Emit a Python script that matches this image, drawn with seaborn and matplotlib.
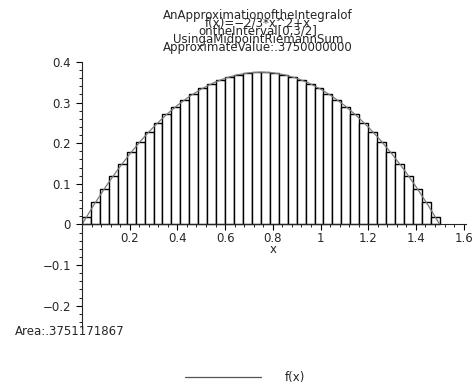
import numpy as np
import matplotlib
matplotlib.use("Agg")
import matplotlib.pyplot as plt
from matplotlib.ticker import MultipleLocator
import seaborn as sns

# Riemann sum setup: interval [0, 3/2], 40 subintervals
a, b, n = 0.0, 1.5, 40

# bar heights f(midpoint), left half (right half is the mirror image)
half_heights = [0.018516, 0.054141, 0.087891, 0.119766, 0.149766,
                0.177891, 0.204141, 0.228516, 0.251016, 0.271641,
                0.290391, 0.307266, 0.322266, 0.335391, 0.346641,
                0.356016, 0.363516, 0.369141, 0.372891, 0.374766]
bar_heights = half_heights + half_heights[::-1]

# the curve f(x) sampled every 0.05
curve_half = [0.0, 0.048333, 0.093333, 0.135, 0.173333, 0.208333, 0.24,
              0.268333, 0.293333, 0.315, 0.333333, 0.348333, 0.36,
              0.368333, 0.373333]
curve_y = curve_half + [0.375] + curve_half[::-1]

title_lines = ["AnApproximationoftheIntegralof",
               "f(x)=\u22122/3*x^2+x",
               "ontheInterval[0,3/2]",
               "UsingaMidpointRiemannSum",
               "ApproximateValue:.3750000000"]
area_text = "Area:.3751171867"

sns.set_style("white")
plt.rcParams['font.family'] = ['DejaVu Sans']

W, H = 473, 387
fig = plt.figure(figsize=(W / 100, H / 100), dpi=100)
ax = fig.add_axes([82 / W, 1 - 328 / H, (466 - 82) / W, (328 - 62) / H])

midpoints = np.linspace(a, b, n + 1)[:-1] + (b - a) / n / 2
sns.histplot(x=midpoints, weights=bar_heights, bins=n, binrange=(a, b),
             color="white", edgecolor="black", linewidth=1.0, alpha=1,
             ax=ax)
curve_x = np.linspace(a, b, len(curve_y))
sns.lineplot(x=curve_x, y=curve_y, color="#7a7a7a", linewidth=0.9, ax=ax)

ax.set_xlim(0, 1.61)
ax.set_ylim(-0.255, 0.4)
ax.set_xlabel("")
ax.set_ylabel("")
for s in ["top", "right"]:
    ax.spines[s].set_visible(False)
ax.spines["bottom"].set_position(("data", 0))
ax.spines["left"].set_linewidth(0.8)
ax.spines["bottom"].set_linewidth(0.8)

xt = [0.2, 0.4, 0.6, 0.8, 1.0, 1.2, 1.4, 1.6]
ax.set_xticks(xt)
ax.set_xticklabels(["0.2", "0.4", "0.6", "0.8", "1", "1.2", "1.4", "1.6"])
yt = [-0.2, -0.1, 0, 0.1, 0.2, 0.3, 0.4]
ax.set_yticks(yt)
ax.set_yticklabels(["\u22120.2", "\u22120.1", "0", "0.1", "0.2", "0.3", "0.4"])
ax.xaxis.set_minor_locator(MultipleLocator(0.04))
ax.yaxis.set_minor_locator(MultipleLocator(0.02))
ax.tick_params(axis="both", which="major", direction="out", length=4,
               width=0.8, labelsize=8.5, color="black",
               bottom=True, left=True)
ax.tick_params(axis="x", which="major", pad=1.5)
ax.tick_params(axis="y", which="major", pad=4)
ax.tick_params(axis="both", which="minor", direction="out", length=2.5,
               width=0.6, color="black", bottom=True, left=True)

ax.text(0.8, -0.062, "x", ha="center", va="center", fontsize=8.5)
ax.text(-0.05, -0.264, area_text, ha="center", va="center", fontsize=8.5,
        clip_on=False)

for i, line in enumerate(title_lines):
    fig.text(258 / W, 1 - (15 + 8 * i) / H, line, ha="center", va="center",
             fontsize=8.5)

leg_line, = ax.plot([], [], color="#555555", linewidth=0.9)
fig.legend([leg_line], ["f(x)"], loc="center",
           bbox_to_anchor=(245 / W, 1 - 378 / H), frameon=False,
           handlelength=6.5, handletextpad=2.0, fontsize=8.5, borderpad=0)

fig.savefig("out.png", dpi=100)
